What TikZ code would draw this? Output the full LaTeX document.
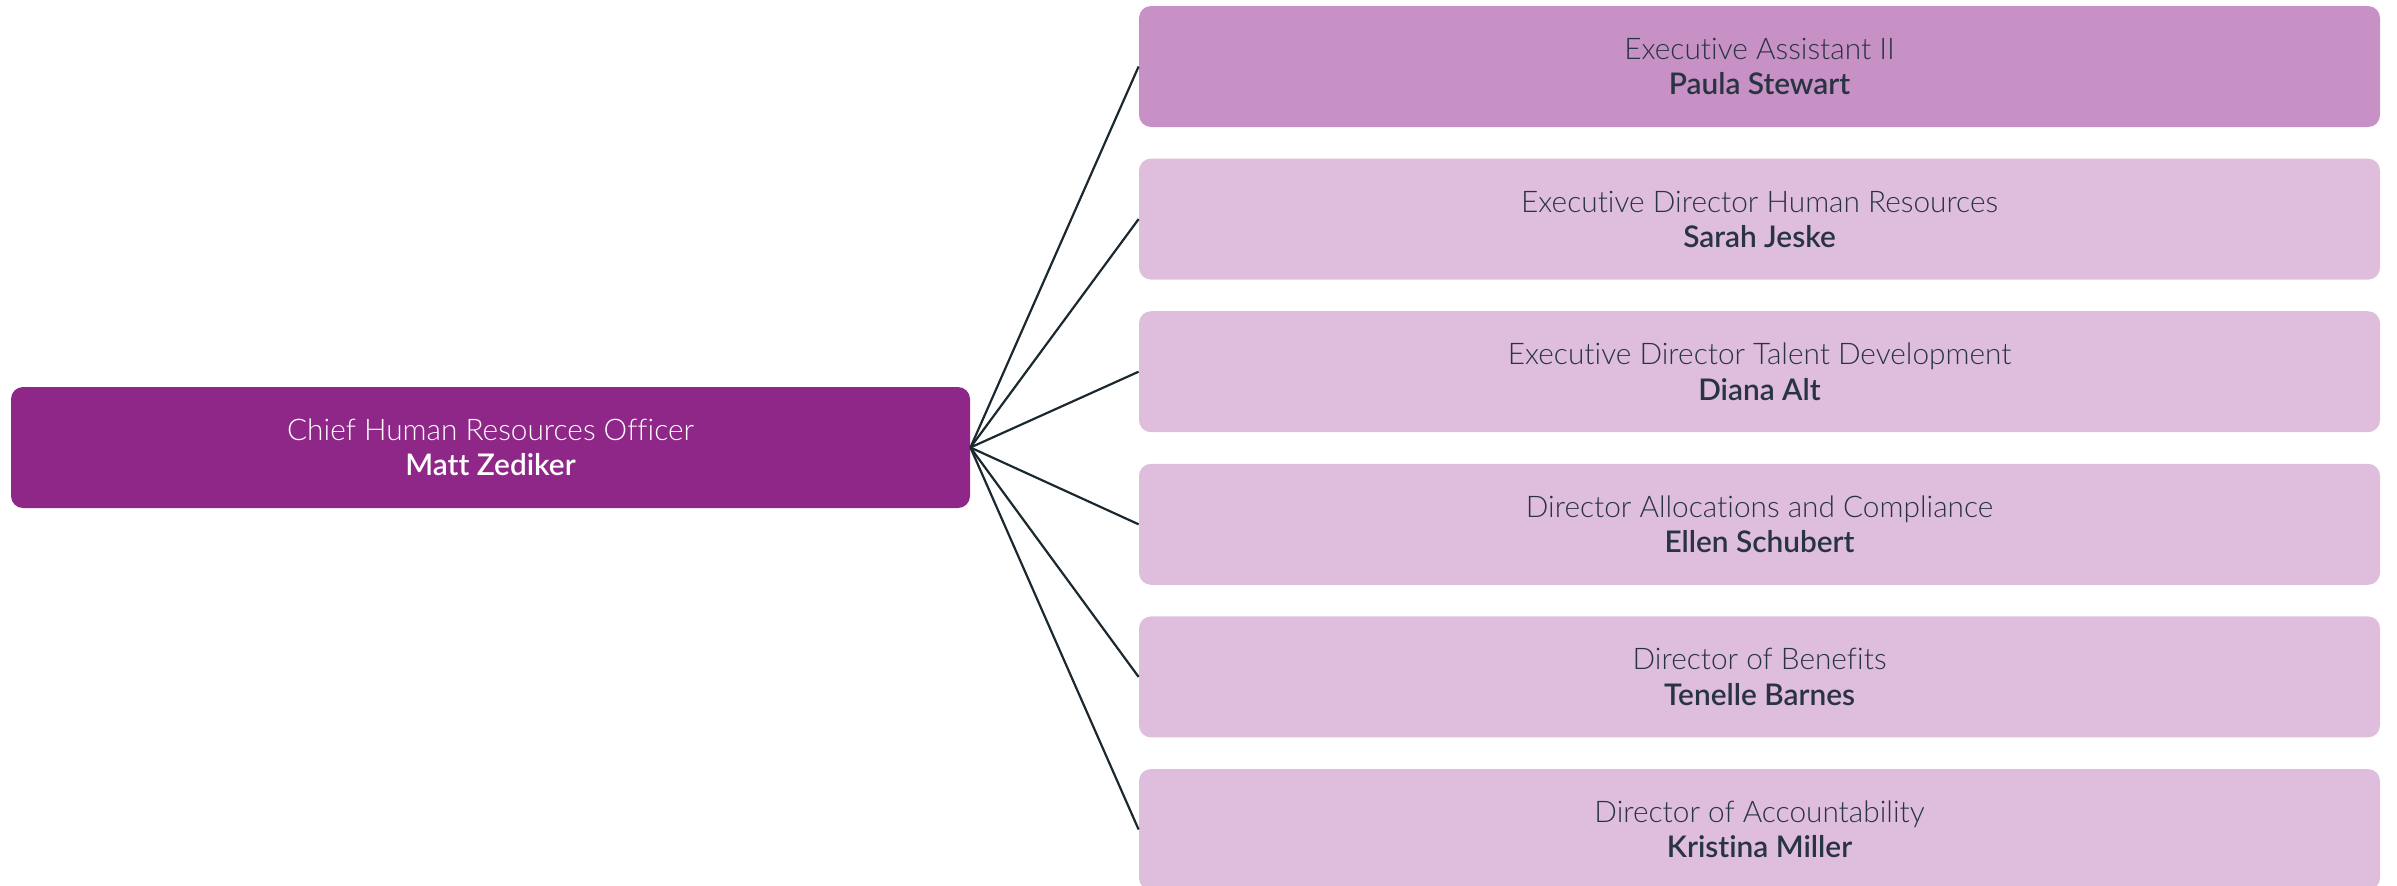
\documentclass[tikz,border=0pt]{standalone}
\usepackage{fontspec}
\setmainfont{Lato}[UprightFont=* Light, BoldFont=* Semibold, Ligatures=NoCommon]
\definecolor{mainfill}{RGB}{143,39,137}
\definecolor{topfill}{RGB}{200,145,197}
\definecolor{subfill}{RGB}{223,189,221}
\definecolor{txtdark}{RGB}{40,52,66}
\definecolor{linkcol}{RGB}{28,40,48}
\tikzset{
  box/.style={rectangle, rounded corners=6pt, minimum width=620.5pt, minimum height=60.5pt,
    inner sep=0pt, align=center, font=\fontsize{14.9}{17.6}\selectfont, text=txtdark, fill=subfill},
  topbox/.style={box, fill=topfill},
  headbox/.style={box, minimum width=479.5pt, fill=mainfill, text=white},
  link/.style={draw=linkcol, line width=1.1pt}
}
\begin{document}
\begin{tikzpicture}[x=0.5pt,y=-0.5pt]
\useasboundingbox (0,0) rectangle (2397,885);
\clip (0,0) rectangle (2397,885);
\node[headbox] (chief) at (490.5,447.5) {Chief Human Resources Officer\\\textbf{Matt Zediker}};
\node[topbox] (b1) at (1759.5,66.5) {Executive Assistant II\\\textbf{Paula Stewart}};
\node[box] (b2) at (1759.5,219.1) {Executive Director Human Resources\\\textbf{Sarah Jeske}};
\node[box] (b3) at (1759.5,371.7) {Executive Director Talent Development\\\textbf{Diana Alt}};
\node[box] (b4) at (1759.5,524.3) {Director Allocations and Compliance\\\textbf{Ellen Schubert}};
\node[box] (b5) at (1759.5,676.9) {Director of Benefits\\\textbf{Tenelle Barnes}};
\node[box] (b6) at (1759.5,829.5) {Director of Accountability\\\textbf{Kristina Miller}};
\foreach \b in {b1,b2,b3,b4,b5,b6}
  \draw[link] (chief.east) -- (\b.west);
\end{tikzpicture}
\end{document}
